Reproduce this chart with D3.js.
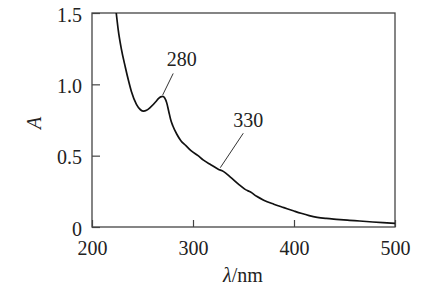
<!DOCTYPE html>
<html>
<head>
<meta charset="utf-8">
<script src="https://cdn.jsdelivr.net/npm/d3@7"></script>
<style>
  body { margin: 0; background: #fff; }
  svg text { font-family: "Liberation Serif", "DejaVu Serif", serif; fill: #222; }
  .axis .domain { display: none; }
  .axis line { stroke: #444; stroke-width: 1.2; }
  .axis text { font-size: 20px; font-family: "Liberation Serif", serif; }
</style>
</head>
<body>
<div id="chart"></div>
<script>
// wavelength (nm) and absorbance
const wavelength = [224, 226, 229, 233, 236, 239, 244, 248, 251, 254, 258, 264, 266, 268, 270, 272, 274, 276, 278, 280,
  284, 288, 293, 298, 305, 310, 318, 325, 330, 337, 345, 352, 357, 363, 370, 380, 390, 400, 407, 415,
  423, 432, 442, 455, 465, 478, 488, 500];
const absorbance = [1.5, 1.38, 1.25, 1.12, 1.03, 0.95, 0.86, 0.822, 0.812, 0.818, 0.84, 0.885, 0.902, 0.912, 0.915, 0.905, 0.87, 0.81, 0.75, 0.71,
  0.65, 0.605, 0.57, 0.535, 0.5, 0.47, 0.435, 0.405, 0.39, 0.35, 0.3, 0.262, 0.245, 0.215, 0.188, 0.16, 0.136, 0.112, 0.096, 0.08,
  0.068, 0.06, 0.054, 0.047, 0.042, 0.035, 0.03, 0.025];

const xTicks = [200, 300, 400, 500];
const yTicks = [0, 0.5, 1.0, 1.5];
const yTickLabels = ["0", "0.5", "1.0", "1.5"];

// peak labels and the point on the curve they point at
const peakLabels = ["280", "330"];
const peakLambda = [270, 327];
const peakA = [0.915, 0.405];

class makeSpectrum {

    constructor(opts) {
        this.element = opts.element;
        this.data = wavelength.map((w, i) => ({ w: w, a: absorbance[i] }));
        this.update();
    }

    _setDimensions() {
        this.margin = { top: 13, right: 30, bottom: 68, left: 92 };
        this.width = 425 - this.margin.left - this.margin.right;
        this.height = 295 - this.margin.top - this.margin.bottom;
    }

    _setScales() {
        this.xScale = d3.scaleLinear().domain([200, 500]).range([0, this.width]);
        this.yScale = d3.scaleLinear().domain([0, 1.5]).range([this.height, 0]);

        this.xAxis = d3.axisBottom(this.xScale)
            .tickValues(xTicks)
            .tickSizeInner(-7)
            .tickSizeOuter(0)
            .tickPadding(14)
            .tickFormat(d => d);

        this.yAxis = d3.axisLeft(this.yScale)
            .tickValues(yTicks)
            .tickSizeInner(-8)
            .tickSizeOuter(0)
            .tickPadding(10)
            .tickFormat((d, i) => yTickLabels[i]);
    }

    update() {
        this._setDimensions();
        this._setScales();
        this.draw();
    }

    draw() {
        this.element.innerHTML = "";
        this.svg = d3.select(this.element).append("svg")
            .attr("width", 425)
            .attr("height", 295);

        this.plot = this.svg.append("g")
            .attr("transform", `translate(${this.margin.left},${this.margin.top})`);

        this.plot.append("g")
            .attr("class", "axis axis--x")
            .attr("transform", `translate(0,${this.height})`)
            .call(this.xAxis)
            .attr("font-family", null);

        this.plot.append("g")
            .attr("class", "axis axis--y")
            .call(this.yAxis)
            .attr("font-family", null);

        this.plot.selectAll(".axis--y text").attr("dy", "0.4em");

        // frame
        this.plot.append("rect")
            .attr("width", this.width)
            .attr("height", this.height)
            .attr("fill", "none")
            .attr("stroke", "#444")
            .attr("stroke-width", 1.3);

        this.drawLine();
        this.drawLabels();
    }

    drawLine() {
        const line = d3.line()
            .x(d => this.xScale(d.w))
            .y(d => this.yScale(d.a))
            .curve(d3.curveMonotoneX);

        this.plot.append("path")
            .datum(this.data)
            .attr("fill", "none")
            .attr("stroke", "#111")
            .attr("stroke-width", 1.7)
            .attr("d", line);
    }

    drawLabels() {
        const offsets = [
            { lx: 10.5, ly: -23, tx: 19, ty: -30 },
            { lx: 23, ly: -36, tx: 28, ty: -42.5 }
        ];

        peakLabels.forEach((lbl, i) => {
            const x = this.xScale(peakLambda[i]);
            const y = this.yScale(peakA[i]);
            const o = offsets[i];

            this.plot.append("line")
                .attr("x1", x + o.lx).attr("y1", y + o.ly)
                .attr("x2", x).attr("y2", y - 1.5)
                .attr("stroke", "#333")
                .attr("stroke-width", 1);

            this.plot.append("text")
                .attr("x", x + o.tx)
                .attr("y", y + o.ty)
                .attr("text-anchor", "middle")
                .style("font-size", "20px")
                .text(lbl);
        });

        // axis titles
        this.svg.append("text")
            .attr("transform", "translate(41,123) rotate(-90)")
            .attr("text-anchor", "middle")
            .style("font-size", "20px")
            .style("font-style", "italic")
            .text("A");

        const xt = this.svg.append("text")
            .attr("x", 243)
            .attr("y", 282)
            .attr("text-anchor", "middle")
            .style("font-size", "20px");
        xt.append("tspan").style("font-style", "italic").text("λ");
        xt.append("tspan").text("/nm");
    }
}

new makeSpectrum({ element: document.getElementById("chart") });
</script>
</body>
</html>
